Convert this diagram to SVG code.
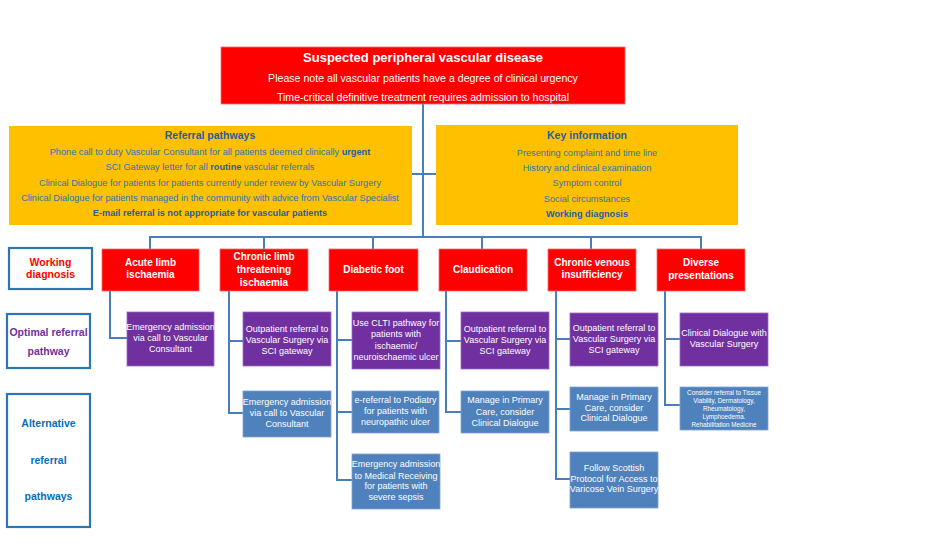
<svg xmlns="http://www.w3.org/2000/svg" width="940" height="555" viewBox="0 0 940 555">
<style>
text{font-family:"Liberation Sans",Arial,sans-serif;text-anchor:middle}
.red{fill:#FF0000;stroke:#FF6A6A;stroke-width:0.8}
.org{fill:#FFC000}
.pur{fill:#7030A0;stroke:#9A6CC0;stroke-width:0.8}
.blu{fill:#4F81BD;stroke:#7FA3D0;stroke-width:0.8}
.lab{fill:#FFFFFF;stroke:#2E75B6;stroke-width:2.2}
.hd{font-size:10px;font-weight:bold;fill:#FFFFFF}
.bx{font-size:9px;fill:#FFFFFF}
.ot{font-size:9.2px;fill:#2E74B5}
.ob{font-size:10.5px;font-weight:bold;fill:#1F5F9F}
.bb{font-weight:bold;fill:#1F5F9F}
.lt{font-size:10.5px;font-weight:bold}
.con{fill:none;stroke:#4A7EBB;stroke-width:2}
</style>

<g id="connectors">
  <path class="con" d="M423,104 V237"/>
  <path class="con" d="M412,174 H436"/>
  <path class="con" d="M150,249 V237 H701 V249"/>
  <path class="con" d="M264,237 V249 M373,237 V249 M482,237 V249 M591,237 V249"/>
  <path class="con" d="M110,291 V338 H127"/>
  <path class="con" d="M229,291 V413 H243 M229,341 H243"/>
  <path class="con" d="M337,291 V480 H352 M337,340 H352 M337,412 H352"/>
  <path class="con" d="M446,291 V412 H461 M446,341 H461"/>
  <path class="con" d="M556,291 V479 H570 M556,339 H570 M556,409 H570"/>
  <path class="con" d="M665,291 V405 H680 M665,339 H680"/>
</g>

<g id="top">
  <rect class="red" x="221" y="47" width="404" height="57"/>
  <text x="423" y="61.5" style="font-size:13px;font-weight:bold;fill:#fff">Suspected peripheral vascular disease</text>
  <text x="423" y="81.7" style="font-size:10.6px;fill:#fff">Please note all vascular patients have a degree of clinical urgency</text>
  <text x="423" y="100.7" style="font-size:10.6px;fill:#fff">Time-critical definitive treatment requires admission to hospital</text>
</g>

<g id="referral-pathways">
  <rect class="org" x="9" y="126" width="403" height="99"/>
  <text class="ob" x="210" y="138.7">Referral pathways</text>
  <text class="ot" x="210" y="155.2">Phone call to  duty Vascular Consultant for all patients deemed clinically <tspan class="bb">urgent</tspan></text>
  <text class="ot" x="210" y="170.2">SCI  Gateway letter for all <tspan class="bb">routine</tspan> vascular referrals</text>
  <text class="ot" x="210" y="186.2">Clinical Dialogue for patients for patients currently under review by Vascular Surgery</text>
  <text class="ot" x="210" y="201.2">Clinical Dialogue for patients managed in the community with advice from Vascular Specialist</text>
  <text class="ot bb" x="210" y="216.2">E-mail referral is not appropriate for vascular patients</text>
</g>

<g id="key-information">
  <rect class="org" x="436" y="125" width="302" height="100"/>
  <text class="ob" x="587" y="138.7">Key information</text>
  <text class="ot" x="587" y="155.7">Presenting complaint and time line</text>
  <text class="ot" x="587" y="171.2">History and clinical examination</text>
  <text class="ot" x="587" y="186.2">Symptom control</text>
  <text class="ot" x="587" y="202.2">Social circumstances</text>
  <text class="ot bb" x="587" y="217.2">Working diagnosis</text>
</g>

<g id="label-working">
  <rect class="lab" x="9" y="248" width="83" height="41"/>
  <text class="lt" x="50.5" y="265.7" fill="#FF0000">Working</text>
  <text class="lt" x="50.5" y="277.7" fill="#FF0000">diagnosis</text>
</g>
<g id="label-optimal">
  <rect class="lab" x="7" y="314" width="83" height="54"/>
  <text class="lt" x="48.5" y="335.7" fill="#7030A0">Optimal referral</text>
  <text class="lt" x="48.5" y="354.7" fill="#7030A0">pathway</text>
</g>
<g id="label-alternative">
  <rect class="lab" x="7" y="394" width="83" height="133"/>
  <text class="lt" x="48.5" y="426.7" fill="#0070C0">Alternative</text>
  <text class="lt" x="48.5" y="463.7" fill="#0070C0">referral</text>
  <text class="lt" x="48.5" y="499.7" fill="#0070C0">pathways</text>
</g>

<g id="dx-acute">
  <rect class="red" x="102" y="249" width="97" height="42"/>
  <text class="hd" x="150.5" y="265.5">Acute limb</text>
  <text class="hd" x="150.5" y="277.5">ischaemia</text>
</g>
<g id="dx-clti">
  <rect class="red" x="220" y="249" width="88" height="42"/>
  <text class="hd" x="264" y="259.5">Chronic limb</text>
  <text class="hd" x="264" y="272.5">threatening</text>
  <text class="hd" x="264" y="285.5">ischaemia</text>
</g>
<g id="dx-diabetic">
  <rect class="red" x="329" y="249" width="89" height="42"/>
  <text class="hd" x="373.5" y="272.5">Diabetic foot</text>
</g>
<g id="dx-claudication">
  <rect class="red" x="439" y="249" width="88" height="42"/>
  <text class="hd" x="483" y="272.5">Claudication</text>
</g>
<g id="dx-cvi">
  <rect class="red" x="548" y="249" width="88" height="42"/>
  <text class="hd" x="592" y="265.5">Chronic venous</text>
  <text class="hd" x="592" y="277.5">insufficiency</text>
</g>
<g id="dx-diverse">
  <rect class="red" x="657" y="249" width="88" height="42"/>
  <text class="hd" x="701" y="265.5">Diverse</text>
  <text class="hd" x="701" y="278.5">presentations</text>
</g>

<g id="opt-acute">
  <rect class="pur" x="127" y="312" width="87" height="54"/>
  <text class="bx" x="170.5" y="330">Emergency admission</text>
  <text class="bx" x="170.5" y="341">via call to Vascular</text>
  <text class="bx" x="170.5" y="351.5">Consultant</text>
</g>
<g id="opt-clti">
  <rect class="pur" x="243" y="312" width="88" height="54"/>
  <text class="bx" x="287" y="332">Outpatient referral to</text>
  <text class="bx" x="287" y="343">Vascular Surgery via</text>
  <text class="bx" x="287" y="354">SCI gateway</text>
</g>
<g id="opt-diabetic">
  <rect class="pur" x="352" y="312" width="88" height="57"/>
  <text class="bx" x="396" y="326">Use CLTI pathway for</text>
  <text class="bx" x="396" y="337">patients with</text>
  <text class="bx" x="396" y="349">ischaemic/</text>
  <text class="bx" x="396" y="360">neuroischaemic ulcer</text>
</g>
<g id="opt-claudication">
  <rect class="pur" x="461" y="312" width="88" height="57"/>
  <text class="bx" x="505" y="332">Outpatient referral to</text>
  <text class="bx" x="505" y="343">Vascular Surgery via</text>
  <text class="bx" x="505" y="354">SCI gateway</text>
</g>
<g id="opt-cvi">
  <rect class="pur" x="570" y="313" width="88" height="53"/>
  <text class="bx" x="614" y="331">Outpatient referral to</text>
  <text class="bx" x="614" y="342">Vascular Surgery via</text>
  <text class="bx" x="614" y="353">SCI gateway</text>
</g>
<g id="opt-diverse">
  <rect class="pur" x="680" y="313" width="88" height="53"/>
  <text class="bx" x="724" y="336">Clinical Dialogue with</text>
  <text class="bx" x="724" y="347">Vascular Surgery</text>
</g>

<g id="alt-clti">
  <rect class="blu" x="243" y="391" width="88" height="46"/>
  <text class="bx" x="287" y="405">Emergency admission</text>
  <text class="bx" x="287" y="416">via call to Vascular</text>
  <text class="bx" x="287" y="427">Consultant</text>
</g>
<g id="alt-diabetic-1">
  <rect class="blu" x="352" y="391" width="87" height="42"/>
  <text class="bx" x="395.5" y="403">e-referral to Podiatry</text>
  <text class="bx" x="395.5" y="414">for patients with</text>
  <text class="bx" x="395.5" y="425">neuropathic ulcer</text>
</g>
<g id="alt-diabetic-2">
  <rect class="blu" x="352" y="454" width="88" height="55"/>
  <text class="bx" x="396" y="467">Emergency admission</text>
  <text class="bx" x="396" y="479">to Medical Receiving</text>
  <text class="bx" x="396" y="489">for patients with</text>
  <text class="bx" x="396" y="500">severe sepsis</text>
</g>
<g id="alt-claudication">
  <rect class="blu" x="461" y="391" width="88" height="42"/>
  <text class="bx" x="505" y="403">Manage in Primary</text>
  <text class="bx" x="505" y="415">Care, consider</text>
  <text class="bx" x="505" y="426">Clinical Dialogue</text>
</g>
<g id="alt-cvi-1">
  <rect class="blu" x="570" y="387" width="88" height="44"/>
  <text class="bx" x="614" y="400">Manage in Primary</text>
  <text class="bx" x="614" y="411">Care, consider</text>
  <text class="bx" x="614" y="421">Clinical Dialogue</text>
</g>
<g id="alt-cvi-2">
  <rect class="blu" x="570" y="452" width="88" height="56"/>
  <text class="bx" x="614" y="471">Follow Scottish</text>
  <text class="bx" x="614" y="482">Protocol for Access to</text>
  <text class="bx" x="614" y="492">Varicose Vein Surgery</text>
</g>
<g id="alt-diverse">
  <rect class="blu" x="680" y="387" width="88" height="43"/>
  <text x="724" y="394.5" style="font-size:6.3px;fill:#fff">Consider referral to Tissue</text>
  <text x="724" y="402.5" style="font-size:6.3px;fill:#fff">Viability, Dermatology,</text>
  <text x="724" y="410.5" style="font-size:6.3px;fill:#fff">Rheumatology,</text>
  <text x="724" y="419" style="font-size:6.3px;fill:#fff">Lymphoedema.</text>
  <text x="724" y="427" style="font-size:6.3px;fill:#fff">Rehabilitation Medicine</text>
</g>
</svg>
